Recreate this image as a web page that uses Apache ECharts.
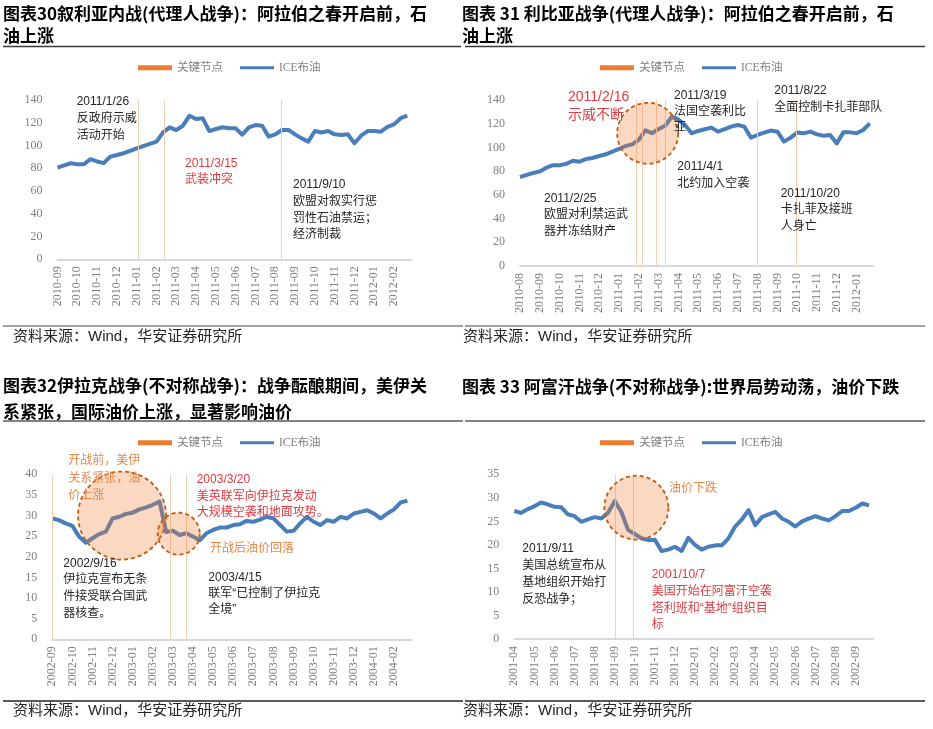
<!DOCTYPE html>
<html>
<head>
<meta charset="utf-8">
<title>战争与油价</title>
<script src="https://cdn.jsdelivr.net/npm/echarts@6/dist/echarts.min.js"></script>
<style>
  html, body { margin: 0; padding: 0; background: #fff; }
  #main { width: 933px; height: 729px; }
</style>
</head>
<body>
<div id="main"></div>
<script>
// 每个月取的点数（读图取样）
const PER_MONTH = 3;

// 图表30 叙利亚内战
const syriaMonths = ['2010-09', '2010-10', '2010-11', '2010-12', '2011-01', '2011-02', '2011-03', '2011-04', '2011-05',
  '2011-06', '2011-07', '2011-08', '2011-09', '2011-10', '2011-11', '2011-12', '2012-01', '2012-02'];
const syriaBrent = [80.5, 82.5, 84.4, 83.5, 83.5, 88, 86, 84.5, 90.2, 91.7, 93.2, 95.2, 97.5, 99.5, 101.5, 103.4,
  111.5, 116, 113.6, 117.4, 126.2, 123.3, 124, 112.7, 114.5, 116, 115.1, 115.1, 109.5, 116, 118, 117.4, 107.8,
  109.8, 113.6, 113.6, 109.8, 106.3, 103.4, 112.7, 111.5, 112.7, 109.8, 109.2, 109.8, 102, 108.6, 112.7, 112.7,
  112.2, 116.3, 118.6, 124, 126.2];
const syriaEvents = [4.08, 5.39, 11.29];

// 图表31 利比亚战争
const libyaMonths = ['2010-08', '2010-09', '2010-10', '2010-11', '2010-12', '2011-01', '2011-02', '2011-03', '2011-04',
  '2011-05', '2011-06', '2011-07', '2011-08', '2011-09', '2011-10', '2011-11', '2011-12', '2012-01'];
const libyaBrent = [75, 76.8, 78.4, 79.8, 82.9, 85, 85, 86.1, 88.8, 88, 90.2, 91.1, 92.8, 94.2, 96.4, 98.7, 101.2,
  102.6, 106.3, 114.4, 112, 115.5, 118.3, 125.9, 123.6, 118.9, 111.9, 113.9, 115.3, 116.7, 113.3, 115.5, 117.5,
  118.9, 117.5, 108.2, 110.5, 112.5, 114.2, 113.3, 104.9, 108.2, 112.5, 111.9, 113.3, 111, 109.9, 110.5, 103.4,
  112.7, 112.7, 111.9, 114.7, 120.3];
const libyaEvents = [5.89, 6.20, 6.88, 7.34, 11.98, 13.94];
const libyaCircles = [[6.45, 111.9]];

// 图表32 伊拉克战争
const iraqMonths = ['2002-09', '2002-10', '2002-11', '2002-12', '2003-01', '2003-02', '2003-03', '2003-04', '2003-05',
  '2003-06', '2003-07', '2003-08', '2003-09', '2003-10', '2003-11', '2003-12', '2004-01', '2004-02'];
const iraqBrent = [29.3, 28.9, 28.1, 27.5, 24.9, 23.4, 24.5, 25.5, 26.1, 29.3, 29.7, 30.4, 30.7, 31.5, 32, 32.6,
  33.4, 26, 26.3, 25.3, 25.7, 24.9, 24, 25.7, 26.5, 27.1, 27.1, 27.7, 27.9, 28.7, 28.5, 29, 29.7, 29.3, 27.7, 26.1,
  26.3, 28.1, 29.7, 28.5, 27.7, 28.9, 28.5, 29.7, 29.3, 30.5, 30.9, 31.3, 30.5, 29.3, 30.5, 31.5, 33.2, 33.6];
const iraqEvents = [0, 5.86, 6.64];
const iraqCircles = [[3.47, 30.0], [6.29, 25.6]];

// 图表33 阿富汗战争
const afghanMonths = ['2001-04', '2001-05', '2001-06', '2001-07', '2001-08', '2001-09', '2001-10', '2001-11', '2001-12',
  '2002-01', '2002-02', '2002-03', '2002-04', '2002-05', '2002-06', '2002-07', '2002-08', '2002-09'];
const afghanBrent = [27.2, 26.8, 27.6, 28.2, 29, 28.6, 28.1, 28, 26.5, 26.1, 24.9, 25.4, 25.9, 25.6, 26.8, 29.3,
  27, 23.2, 22.3, 21.4, 21, 21.1, 18.7, 19, 19.6, 18.7, 21.5, 20, 19, 19.6, 19.9, 19.9, 21.4, 23.9, 25.4, 27.4,
  24.2, 25.9, 26.5, 27, 25.6, 24.9, 23.9, 25, 25.6, 26.1, 25.6, 25.2, 26.1, 27.2, 27.2, 27.9, 28.8, 28.4];
const afghanEvents = [5.05, 5.93];
const afghanCircles = [[6.08, 27.9]];

const SANS = '"Liberation Sans", Arial, "Noto Sans CJK SC", sans-serif';
const SERIF = '"Liberation Serif", "DejaVu Serif", "Noto Sans CJK SC", serif';
const HEI = '"Noto Sans CJK SC", sans-serif';
const BLUE = '#4A7EBB';
const ORANGE = '#ED7D31';
const RED = '#E03A3E';
const TAN = '#E38A4E';
const DARK = '#262626';

const chart = echarts.init(document.getElementById('main'));

// 四个子图的绘图区
const grids = [
  { left: 57.5, top: 100, width: 354.4, height: 159.3 },
  { left: 520, top: 100, width: 353.4, height: 166 },
  { left: 52.3, top: 474.3, width: 359.4, height: 165 },
  { left: 514.3, top: 474.3, width: 359, height: 164.7 }
];

function xAxisFor(i, labels, max) {
  return {
    type: 'value', gridIndex: i, min: 0, max: max, interval: 1,
    axisLine: { show: true, onZero: false, lineStyle: { color: '#d9d9d9', width: 2 } },
    axisTick: { show: false },
    splitLine: { show: false },
    axisLabel: {
      rotate: 90, margin: 7, color: '#7f7f7f', fontSize: 12, fontFamily: SERIF,
      showMinLabel: true, showMaxLabel: true,
      formatter: function (v) {
        const k = Math.round(v);
        return Math.abs(v - k) < 1e-6 && labels[k] ? labels[k] : '';
      }
    }
  };
}

function yAxisFor(i, max, step) {
  return {
    type: 'value', gridIndex: i, min: 0, max: max, interval: step,
    axisLine: { show: false }, axisTick: { show: false }, splitLine: { show: false },
    axisLabel: { margin: 15, color: '#7f7f7f', fontSize: 12, fontFamily: SERIF }
  };
}

function panelSeries(i, values, events, circles, sizes) {
  const out = [{
    name: '关键节点', type: 'line', xAxisIndex: i, yAxisIndex: i, data: [],
    itemStyle: { color: ORANGE }, lineStyle: { color: ORANGE },
    markLine: {
      silent: true, symbol: 'none', label: { show: false }, animation: false,
      lineStyle: { color: '#F9CDB0', width: 1, type: 'solid' },
      emphasis: { disabled: true },
      data: events.map(function (x) { return { xAxis: x }; })
    },
    z: 1
  }, {
    name: 'ICE布油', type: 'line', xAxisIndex: i, yAxisIndex: i,
    data: values.map(function (v, k) { return [k / PER_MONTH, v]; }),
    symbol: 'none', showSymbol: false,
    lineStyle: { color: BLUE, width: 4, join: 'round' }, itemStyle: { color: BLUE },
    z: 3
  }];
  if (circles) {
    out.push({
      name: '圈注', type: 'scatter', xAxisIndex: i, yAxisIndex: i, silent: true,
      data: circles.map(function (c, k) { return { value: c, symbolSize: sizes[k] }; }),
      symbol: 'circle',
      itemStyle: { color: 'rgba(237,125,49,0.3)', borderColor: '#C55A11', borderWidth: 1.8, borderType: [4, 3], opacity: 1 },
      z: 5
    });
  }
  return out;
}

function legendAt(left, top) {
  return {
    left: left, top: top, itemGap: 17, itemWidth: 34, itemHeight: 5, padding: 0,
    textStyle: { color: '#7f7f7f', fontSize: 11.5, fontFamily: SERIF },
    data: [
      { name: '关键节点', icon: 'rect' },
      { name: 'ICE布油', icon: 'path://M0,0H37V3.4H0Z' }
    ],
    selectedMode: false
  };
}

function titleAt(text, left, top, lh) {
  return {
    text: text, left: left, top: top, padding: 0,
    textStyle: { fontSize: 17, fontWeight: 'bold', fontFamily: HEI, color: '#000', lineHeight: lh }
  };
}

// 文字注释：x, 顶部 y, 文本, 颜色, 字号, 行高
const notes = [
  [76.7, 93.5, '2011/1/26\n反政府示威\n活动开始', DARK, 12, 17],
  [185, 155, '2011/3/15\n武装冲突', RED, 12, 16.7],
  [293, 176.7, '2011/9/10\n欧盟对叙实行惩\n罚性石油禁运；\n经济制裁', DARK, 12, 16.7],
  [568, 87.5, '2011/2/16\n示威不断', RED, 14, 18.3],
  [674, 87.7, '2011/3/19\n法国空袭利比\n亚', DARK, 12, 16],
  [774.3, 82.8, '2011/8/22\n全面控制卡扎菲部队', DARK, 12, 16.3],
  [677.3, 158.3, '2011/4/1\n北约加入空袭', DARK, 12, 16.7],
  [544, 190, '2011/2/25\n欧盟对利禁运武\n器并冻结财产', DARK, 12, 16.7],
  [780.7, 185, '2011/10/20\n卡扎菲及接班\n人身亡', DARK, 12, 16.7],
  [68.3, 451.8, '开战前，美伊\n关系紧张，油\n价上涨', TAN, 12, 17.7],
  [196.7, 471.8, '2003/3/20\n美英联军向伊拉克发动\n大规模空袭和地面攻势。', RED, 12, 16.4],
  [210, 541, '开战后油价回落', TAN, 12, 16],
  [63.3, 555, '2002/9/16\n伊拉克宣布无条\n件接受联合国武\n器核查。', DARK, 12, 16.7],
  [208.3, 569, '2003/4/15\n联军“已控制了伊拉克\n全境”', DARK, 12, 16.4],
  [669, 481, '油价下跌', TAN, 12, 16],
  [522.3, 540.5, '2011/9/11\n美国总统宣布从\n基地组织开始打\n反恐战争；', DARK, 12, 17],
  [651.7, 566.7, '2001/10/7\n美国开始在阿富汗空袭\n塔利班和“基地”组织目\n标', RED, 12, 16.7]
];

const graphics = [];
notes.forEach(function (n) {
  graphics.push({
    type: 'text', x: n[0], y: n[1], z: 20, silent: true,
    style: { text: n[2], fill: n[3], font: n[4] + 'px ' + SANS, lineHeight: n[5], verticalAlign: 'top', align: 'left' }
  });
});

// 标题下横线与资料来源
function rule(x1, x2, y, color, w) {
  return { type: 'line', silent: true, z: 20, shape: { x1: x1, y1: y, x2: x2, y2: y }, style: { stroke: color, lineWidth: w } };
}
graphics.push(rule(3, 461, 46.5, '#3a3a3a', 1.3));
graphics.push(rule(465, 925, 46.5, '#3a3a3a', 1.3));
graphics.push(rule(3, 463, 326, '#808080', 1.6));
graphics.push(rule(465, 925, 326, '#808080', 1.6));
graphics.push(rule(3, 463, 421, '#595959', 1.5));
graphics.push(rule(465, 925, 421, '#595959', 1.5));
graphics.push(rule(3, 463, 701, '#222222', 1.5));
graphics.push(rule(465, 925, 701, '#222222', 1.5));

[[13, 337], [463, 337], [13, 710.7], [463, 710.7]].forEach(function (p) {
  graphics.push({
    type: 'text', x: p[0], y: p[1], z: 20, silent: true,
    style: { text: '资料来源：Wind，华安证券研究所', fill: DARK, font: '15px ' + SANS, verticalAlign: 'middle' }
  });
});

const option = {
  animation: false,
  backgroundColor: '#fff',
  title: [
    titleAt('图表30叙利亚内战(代理人战争)：阿拉伯之春开启前，石\n油上涨', 3, 2.3, 22),
    titleAt('图表 31 利比亚战争(代理人战争)：阿拉伯之春开启前，石\n油上涨', 462, 2.3, 22),
    titleAt('图表32伊拉克战争(不对称战争)：战争酝酿期间，美伊关\n系紧张，国际油价上涨，显著影响油价', 3, 371.7, 26.7),
    titleAt('图表 33 阿富汗战争(不对称战争):世界局势动荡，油价下跌', 462, 373.3, 26.7)
  ],
  legend: [legendAt(138, 62), legendAt(600, 62), legendAt(138, 437), legendAt(600, 437)],
  grid: grids,
  xAxis: [
    xAxisFor(0, syriaMonths, 17.9),
    xAxisFor(1, libyaMonths, 17.85),
    xAxisFor(2, iraqMonths, 17.88),
    xAxisFor(3, afghanMonths, 17.88)
  ],
  yAxis: [
    yAxisFor(0, 140, 20),
    yAxisFor(1, 140, 20),
    yAxisFor(2, 40, 5),
    yAxisFor(3, 35, 5)
  ],
  series: [].concat(
    panelSeries(0, syriaBrent, syriaEvents),
    panelSeries(1, libyaBrent, libyaEvents, libyaCircles, [61]),
    panelSeries(2, iraqBrent, iraqEvents, iraqCircles, [88, 42]),
    panelSeries(3, afghanBrent, afghanEvents, afghanCircles, [64])
  ),
  graphic: graphics
};

chart.setOption(option);
</script>
</body>
</html>
